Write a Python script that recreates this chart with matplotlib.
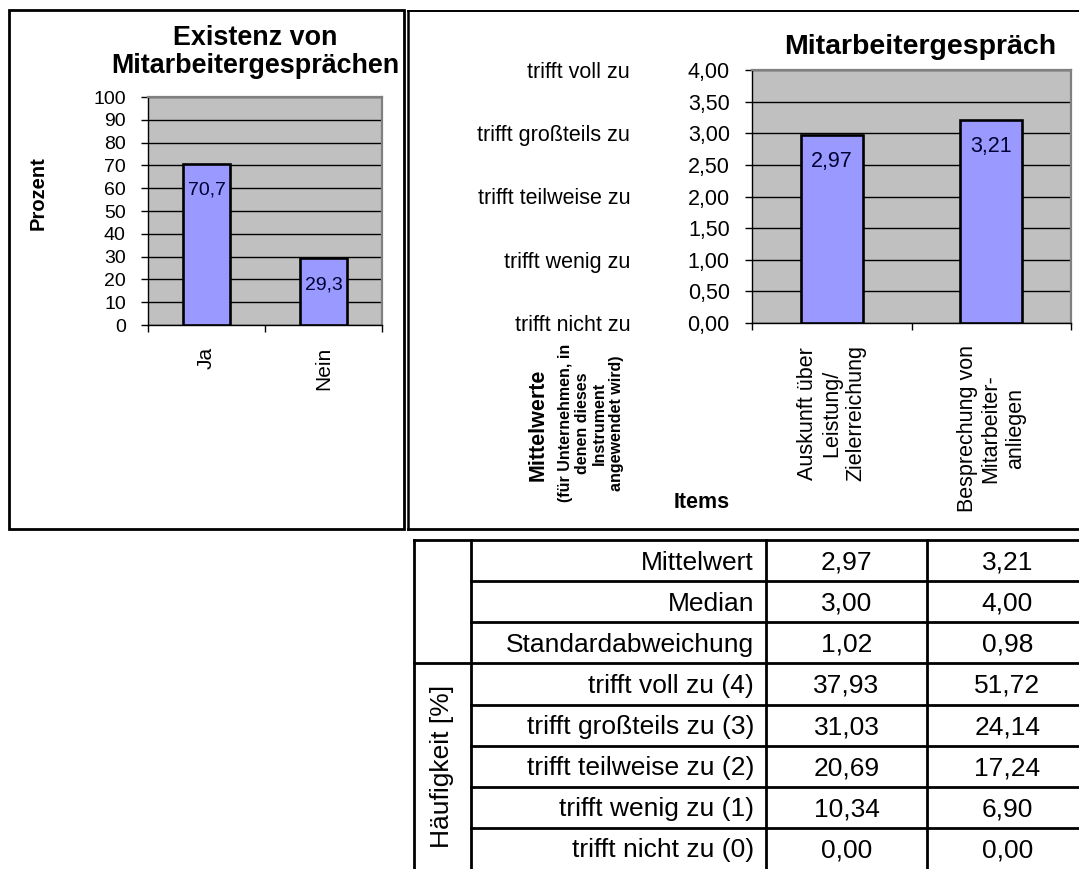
import matplotlib
matplotlib.use('Agg')
import matplotlib.pyplot as plt
from matplotlib.patches import Rectangle
import numpy as np

plt.rcParams['font.family'] = ['Liberation Sans', 'DejaVu Sans']

# ---------------- data ----------------
exist_title = "Existenz von\nMitarbeitergesprächen"
exist_categories = ['Ja', 'Nein']
exist_values = [70.7, 29.3]
exist_yticks = [0, 10, 20, 30, 40, 50, 60, 70, 80, 90, 100]

items_title = "Mitarbeitergespräch"
item_labels = ['Auskunft über\nLeistung/\nZielerreichung',
               'Besprechung von\nMitarbeiter-\nanliegen']
item_means = [2.97, 3.21]
mean_yticks = [0.0, 0.5, 1.0, 1.5, 2.0, 2.5, 3.0, 3.5, 4.0]
scale_values = [0, 1, 2, 3, 4]
scale_labels = ['trifft nicht zu', 'trifft wenig zu', 'trifft teilweise zu',
                'trifft großteils zu', 'trifft voll zu']

table_row_labels = ['Mittelwert', 'Median', 'Standardabweichung',
                    'trifft voll zu (4)', 'trifft großteils zu (3)',
                    'trifft teilweise zu (2)', 'trifft wenig zu (1)',
                    'trifft nicht zu (0)']
table_item1 = [2.97, 3.00, 1.02, 37.93, 31.03, 20.69, 10.34, 0.00]
table_item2 = [3.21, 4.00, 0.98, 51.72, 24.14, 17.24, 6.90, 0.00]
freq_group_label = 'Häufigkeit [%]'
freq_group_start = 3

# ---------------- figure ----------------
W, H = 1079, 869
fig = plt.figure(figsize=(W / 100, H / 100), dpi=100)
fig.patch.set_facecolor('white')


def px_axes(x0, y0, x1, y1):
    return fig.add_axes([x0 / W, 1 - y1 / H, (x1 - x0) / W, (y1 - y0) / H])


def de(v, nd):
    return f"{v:.{nd}f}".replace('.', ',')


BAR = '#9999FF'
PLOT_BG = '#C0C0C0'


def style_chart(ax, ytick_fs, xtick_fs):
    ax.set_facecolor(PLOT_BG)
    ax.set_axisbelow(True)
    ax.yaxis.grid(True, color='black', linewidth=1.0)
    for s in ['top', 'right']:
        ax.spines[s].set_color('#808080')
        ax.spines[s].set_linewidth(1.6)
    for s in ['left', 'bottom']:
        ax.spines[s].set_color('black')
        ax.spines[s].set_linewidth(1.0)
    ax.tick_params(axis='y', direction='out', length=5, width=1,
                   labelsize=ytick_fs, pad=11)
    ax.tick_params(axis='x', which='major', direction='out', length=5,
                   width=1, labelbottom=False)
    ax.tick_params(axis='x', which='minor', length=0, labelsize=xtick_fs,
                   pad=16)


# ---------------- left chart ----------------
ax1 = px_axes(148, 97, 382, 325)
x1 = np.arange(len(exist_categories))
ax1.bar(x1, exist_values, width=0.4, color=BAR, edgecolor='black',
        linewidth=1.9, zorder=3)
ax1.set_xlim(-0.5, len(exist_categories) - 0.5)
ax1.set_ylim(0, 100)
ax1.set_yticks(exist_yticks)
ax1.set_yticklabels([str(v) for v in exist_yticks])
ax1.set_xticks(np.arange(len(exist_categories) + 1) - 0.5)
ax1.set_xticks(x1, minor=True)
ax1.set_xticklabels(exist_categories, minor=True, rotation=90)
style_chart(ax1, 14, 15)
for i, v in enumerate(exist_values):
    ax1.annotate(de(v, 1), xy=(i, v), xytext=(0, -19),
                 textcoords='offset points', ha='center', va='center',
                 fontsize=14, color='#000033', zorder=4)

# ---------------- right chart ----------------
ax2 = px_axes(752, 70, 1071, 323)
x2 = np.arange(len(item_labels))
ax2.bar(x2, item_means, width=0.39, color=BAR, edgecolor='black',
        linewidth=1.9, zorder=3)
ax2.set_xlim(-0.5, len(item_labels) - 0.5)
ax2.set_ylim(0, 4)
ax2.set_yticks(mean_yticks)
ax2.set_yticklabels([de(v, 2) for v in mean_yticks])
ax2.set_xticks(np.arange(len(item_labels) + 1) - 0.5)
ax2.set_xticks(x2, minor=True)
ax2.set_xticklabels(item_labels, minor=True, rotation=90,
                    multialignment='center', linespacing=1.2)
style_chart(ax2, 15.5, 15.5)
for i, v in enumerate(item_means):
    ax2.annotate(de(v, 2), xy=(i, v), xytext=(0, -19),
                 textcoords='offset points', ha='center', va='center',
                 fontsize=15.5, color='#000033', zorder=4)
for v, lab in zip(scale_values, scale_labels):
    ax2.text(-0.382, v, lab, transform=ax2.get_yaxis_transform(),
             ha='right', va='center_baseline', fontsize=15.5)

# ---------------- overlay (pixel coords) ----------------
ax0 = fig.add_axes([0, 0, 1, 1], zorder=-1)
ax0.set_xlim(0, W)
ax0.set_ylim(H, 0)
ax0.axis('off')

# panel frames
ax0.add_patch(Rectangle((9, 10), 395, 519, fill=False, edgecolor='black',
                        linewidth=2.0))
ax0.plot([408, 408], [11, 529], color='black', lw=1.8)
ax0.plot([408, W], [11, 11], color='black', lw=1.4)
ax0.plot([408, W], [529, 529], color='black', lw=2.0)

# titles and axis labels
ax0.text(255, 52, exist_title, ha='center', va='center', fontsize=19.4,
         fontweight='bold', linespacing=1.12)
ax0.text(38, 193, 'Prozent', ha='center', va='center', rotation=90,
         fontsize=14.5, fontweight='bold')
ax0.text(920, 47, items_title, ha='center', va='center', fontsize=20.5,
         fontweight='bold')
ax0.text(538, 425, 'Mittelwerte', ha='center', va='center', rotation=90,
         fontsize=15.5, fontweight='bold')
ax0.text(591, 423, '(für Unternehmen, in\ndenen dieses\nInstrument\nangewendet wird)',
         ha='center', va='center', rotation=90, fontsize=11.5,
         fontweight='bold', multialignment='center', linespacing=1.18)
ax0.text(702, 503, 'Items', ha='center', va='center', fontsize=15.5,
         fontweight='bold')

# ---------------- table ----------------
t_top = 540
row_h = (H - t_top) / len(table_row_labels)
cx = [414, 471, 766, 927, 1088]
TLW = 2.0
n = len(table_row_labels)
ax0.plot([cx[0], cx[-1]], [t_top, t_top], color='black', lw=TLW)
for i in range(1, n):
    y = t_top + i * row_h
    xs = cx[0] if i == freq_group_start else cx[1]
    ax0.plot([xs, cx[-1]], [y, y], color='black', lw=TLW)
for x in cx:
    ax0.plot([x, x], [t_top, H], color='black', lw=TLW)

TFS = 19
for i, (lab, a, b) in enumerate(zip(table_row_labels, table_item1, table_item2)):
    yc = t_top + (i + 0.5) * row_h + 2
    ax0.text(cx[2] - 12, yc, lab, ha='right', va='center', fontsize=TFS)
    ax0.text((cx[2] + cx[3]) / 2, yc, de(a, 2), ha='center', va='center',
             fontsize=TFS)
    ax0.text((cx[3] + cx[4]) / 2, yc, de(b, 2), ha='center', va='center',
             fontsize=TFS)
ax0.text((cx[0] + cx[1]) / 2, t_top + (freq_group_start + n) / 2 * row_h,
         freq_group_label, ha='center', va='center', rotation=90,
         fontsize=TFS)

fig.savefig('out.png', dpi=100)
